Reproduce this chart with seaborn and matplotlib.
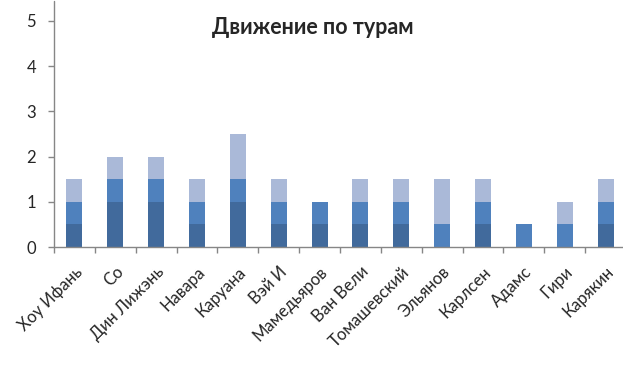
import numpy as np
import pandas as pd
import matplotlib
matplotlib.use("Agg")
import matplotlib.pyplot as plt
import seaborn as sns

players = ["Хоу Ифань", "Со", "Дин Лижэнь", "Навара", "Каруана", "Вэй И",
           "Мамедьяров", "Ван Вели", "Томашевский", "Эльянов", "Карлсен",
           "Адамс", "Гири", "Карякин"]
round1 = [0.5, 1, 1, 0.5, 1, 0.5, 0.5, 0.5, 0.5, 0, 0.5, 0, 0, 0.5]
round2 = [0.5, 0.5, 0.5, 0.5, 0.5, 0.5, 0.5, 0.5, 0.5, 0.5, 0.5, 0.5, 0.5, 0.5]
round3 = [0.5, 0.5, 0.5, 0.5, 1, 0.5, 0, 0.5, 0.5, 1, 0.5, 0, 0.5, 0.5]
colors = ["#416a9c", "#4f81bd", "#aab9d8"]

df = pd.DataFrame({"player": players, "r1": round1, "r2": round2, "r3": round3})

sns.set_style("white")
plt.rcParams["font.family"] = ["Lato", "DejaVu Sans"]

fig = plt.figure(figsize=(6.23, 3.66), dpi=100)
ax = fig.add_axes([54 / 623, 1 - 247 / 366, 572 / 623, 246 / 366])

bottom = np.zeros(len(players))
for col, c in zip(["r1", "r2", "r3"], colors):
    sns.barplot(data=df, x="player", y=col, color=c, bottom=bottom,
                width=0.39, saturation=1, ax=ax, linewidth=0,
                edgecolor="none", errorbar=None)
    bottom = bottom + df[col].to_numpy()

ax.set_ylim(0, 5.44)
ax.set_xlim(-0.5, len(players) - 0.5)
ax.set_yticks([0, 1, 2, 3, 4, 5])
ax.set_xlabel("")
ax.set_ylabel("")

# no frame; draw only the two axis lines
ax.set_frame_on(False)
ax.axhline(0, color="#868686", lw=1, clip_on=False)
ax.axvline(-0.5, color="#868686", lw=1, clip_on=False)

ax.tick_params(axis="y", length=4, width=1, color="#868686", pad=9,
               labelsize=12, left=True)
ax.set_xticks(np.arange(len(players)))
ax.set_xticklabels(players, rotation=45, ha="right", rotation_mode="anchor",
                   fontsize=12)
ax.tick_params(axis="x", which="major", length=0, pad=12)
ax.set_xticks(np.arange(len(players)) - 0.5, minor=True)
ax.tick_params(axis="x", which="minor", length=4, width=1, color="#868686",
               bottom=True)

fig.text(313 / 623, 1 - 28 / 366, "Движение по турам", ha="center",
         va="center", fontsize=15.5, fontweight="bold")

fig.savefig("out.png", dpi=100)
